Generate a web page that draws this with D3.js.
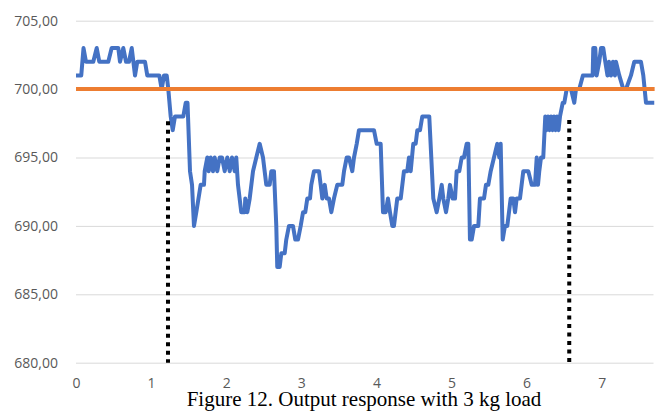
<!DOCTYPE html>
<html>
<head>
<meta charset="utf-8">
<script src="https://cdn.jsdelivr.net/npm/d3@7"></script>
<style>
  body { margin: 0; background: #fff; }
  svg { display: block; }
</style>
</head>
<body>
<svg width="664" height="418"></svg>
<script>
// output response (time in s, position)
const time = [
  0, 0.07, 0.10, 0.133, 0.23, 0.276, 0.31, 0.43, 0.475, 0.563, 0.586, 0.63, 0.666, 0.706, 0.742,
  0.786, 0.816, 0.919, 0.949, 1.109, 1.141, 1.172, 1.208, 1.229, 1.261, 1.288, 1.318, 1.429, 1.461,
  1.485, 1.518, 1.545, 1.571, 1.602, 1.66, 1.704, 1.714, 1.748, 1.767, 1.794, 1.824, 1.847, 1.881,
  1.913, 1.944, 1.98, 2.015, 2.047, 2.077, 2.113, 2.134, 2.157, 2.201, 2.246, 2.254, 2.281, 2.313,
  2.357, 2.401, 2.446, 2.49, 2.534, 2.579, 2.601, 2.636, 2.667, 2.68, 2.712, 2.734, 2.779, 2.8,
  2.836, 2.889, 2.92, 2.956, 2.992, 3.023, 3.053, 3.08, 3.116, 3.133, 3.169, 3.236, 3.258, 3.28,
  3.312, 3.338, 3.369, 3.4, 3.435, 3.479, 3.546, 3.569, 3.605, 3.635, 3.679, 3.702, 3.738, 3.768,
  3.968, 4.004, 4.057, 4.088, 4.124, 4.154, 4.181, 4.212, 4.234, 4.278, 4.324, 4.367, 4.411, 4.434,
  4.457, 4.491, 4.523, 4.545, 4.581, 4.611, 4.704, 4.758, 4.803, 4.838, 4.87, 4.891, 4.927, 4.957,
  4.98, 5.016, 5.047, 5.069, 5.104, 5.136, 5.166, 5.202, 5.224, 5.246, 5.269, 5.3, 5.357, 5.379,
  5.433, 5.459, 5.49, 5.522, 5.566, 5.61, 5.637, 5.655, 5.682, 5.712, 5.743, 5.788, 5.823, 5.846,
  5.868, 5.912, 5.956, 6.023, 6.068, 6.112, 6.135, 6.152, 6.169, 6.192, 6.222, 6.249, 6.265, 6.285,
  6.305, 6.325, 6.345, 6.365, 6.385, 6.405, 6.425, 6.445, 6.481, 6.502, 6.534, 6.591, 6.635, 6.658,
  6.702, 6.75, 6.88, 6.888, 6.915, 6.933, 6.968, 6.991, 7.021, 7.048, 7.077, 7.097, 7.124, 7.15,
  7.177, 7.19, 7.234, 7.288, 7.324, 7.39, 7.434, 7.523, 7.554, 7.59, 7.70
]
const position = [
  701, 701, 703, 702, 702, 703, 702, 702, 703, 703, 702, 703, 702, 702, 703,
  701, 702, 702, 701, 701, 700, 701, 701, 700, 698, 697, 698, 698, 699,
  699, 694, 693, 690, 691, 693, 693, 694, 695, 694, 695, 694, 695, 694,
  695, 695, 694, 695, 694, 695, 694, 695, 693, 691, 691, 692, 691, 692,
  694, 695, 696, 695, 693, 693, 694, 694, 690, 687, 687, 688, 688, 689,
  690, 690, 689, 689, 690, 691, 691, 692, 692, 693, 694, 694, 693, 692,
  693, 692, 692, 691, 692, 693, 693, 694, 695, 695, 694, 695, 696, 697,
  697, 696, 696, 691, 691, 692, 691, 690, 690, 692, 692, 694, 694, 695,
  694, 696, 696, 697, 697, 698, 698, 692, 691, 692, 693, 692, 691, 692,
  693, 692, 692, 694, 694, 695, 695, 696, 696, 689, 689, 690, 690, 692,
  692, 693, 693, 694, 695, 696, 695, 696, 689, 690, 690, 692, 692, 691,
  692, 692, 694, 694, 693, 693, 695, 693, 694, 695, 695, 698, 697, 698,
  697, 698, 697, 698, 697, 698, 697, 698, 699, 699, 700, 700, 699, 700,
  700, 701, 701, 703, 703, 701, 702, 703, 703, 702, 701, 702, 701, 702,
  701, 702, 701, 700, 700, 701, 702, 702, 701, 699, 699
]
// reference (setpoint) line
const setTime = [0, 7.705]
const setValue = [700, 700]
// dotted markers: [time, top value]
const markTime = [1.225, 6.568]
const markTop = [697.65, 697.75]

const yTicks = [680, 685, 690, 695, 700, 705]
const xTicks = [0, 1, 2, 3, 4, 5, 6, 7]
const caption = 'Figure 12. Output response with 3 kg load'

const svg = d3.select('svg')
const plot = {left: 76, right: 653.5, top: 20.7, bottom: 362.7}

const x = d3.scaleLinear().domain([0, 7.69]).range([plot.left, plot.right])
const y = d3.scaleLinear().domain([680, 705]).range([plot.bottom, plot.top])

const comma = d3.formatLocale({decimal: ',', thousands: '.', grouping: [3], currency: ['', '']})

// gridlines + y labels
const gy = svg.append('g')
  .attr('transform', 'translate(' + plot.left + ',0)')
  .call(d3.axisLeft(y).tickValues(yTicks).tickSize(-(plot.right - plot.left)).tickPadding(18)
    .tickFormat(comma.format('.2f')))
gy.select('.domain').remove()
gy.selectAll('line').attr('stroke', '#d9d9d9').attr('stroke-width', 1)
gy.selectAll('text')
  .attr('fill', '#595959')
  .attr('font-family', '"Open Sans", sans-serif')
  .attr('font-size', 14)

// x labels
const gx = svg.append('g')
  .attr('transform', 'translate(0,' + plot.bottom + ')')
  .call(d3.axisBottom(x).tickValues(xTicks).tickSize(0).tickPadding(15).tickFormat(d3.format('d')))
gx.select('.domain').remove()
gx.selectAll('text')
  .attr('fill', '#595959')
  .attr('font-family', '"Open Sans", sans-serif')
  .attr('font-size', 14)

const line = d3.line().x(d => x(d[0])).y(d => y(d[1]))

svg.append('path')
  .datum(d3.zip(time, position))
  .attr('d', line)
  .attr('fill', 'none')
  .attr('stroke', '#4472c4')
  .attr('stroke-width', 4)
  .attr('stroke-linejoin', 'round')

svg.append('path')
  .datum(d3.zip(setTime, setValue))
  .attr('d', line)
  .attr('fill', 'none')
  .attr('stroke', '#ed7d31')
  .attr('stroke-width', 4)

svg.append('g').selectAll('line')
  .data(d3.zip(markTime, markTop))
  .enter().append('line')
  .attr('x1', d => x(d[0]))
  .attr('x2', d => x(d[0]))
  .attr('y1', d => y(d[1]))
  .attr('y2', y(680))
  .attr('stroke', '#000')
  .attr('stroke-width', 4)
  .attr('stroke-dasharray', '4,4.5')

svg.append('text')
  .attr('x', 364)
  .attr('y', 406)
  .attr('text-anchor', 'middle')
  .attr('font-family', '"Liberation Serif", "Times New Roman", serif')
  .attr('font-size', 21)
  .attr('fill', '#000')
  .text(caption)
</script>
</body>
</html>
